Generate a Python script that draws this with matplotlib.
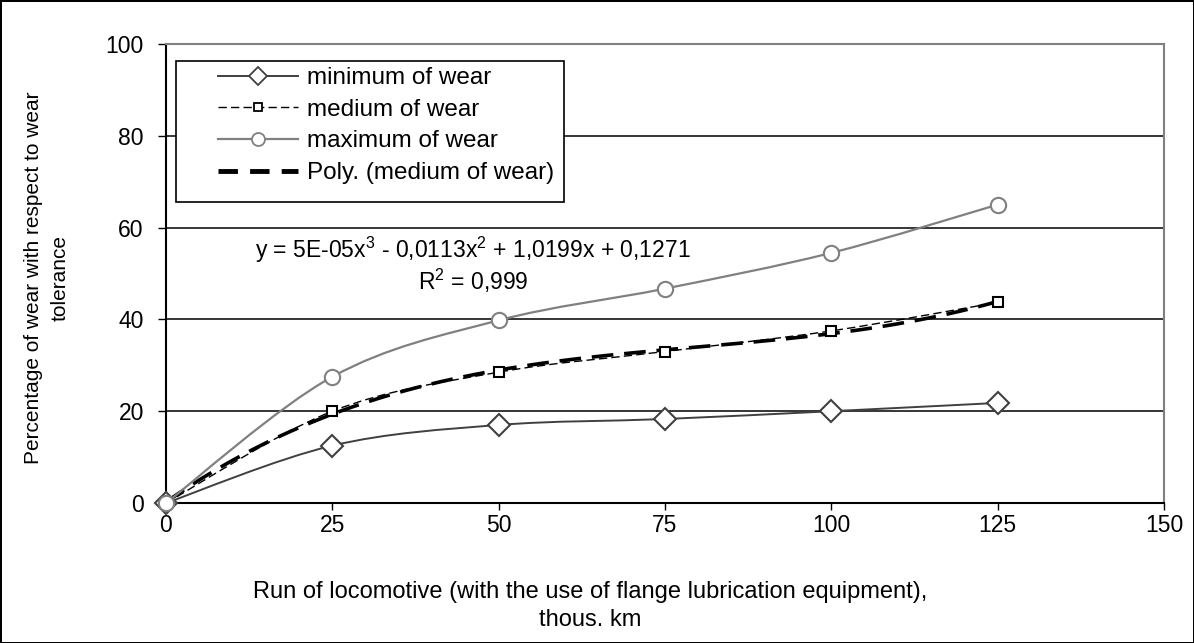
import numpy as np
import matplotlib
matplotlib.use('Agg')
import matplotlib.pyplot as plt
from matplotlib.path import Path
from matplotlib.patches import PathPatch, Rectangle
from matplotlib.lines import Line2D

plt.rcParams['font.family'] = ['Liberation Sans', 'DejaVu Sans']
plt.rcParams['mathtext.fontset'] = 'custom'
plt.rcParams['mathtext.rm'] = 'Liberation Sans'
plt.rcParams['mathtext.it'] = 'Liberation Sans'

################################################################################################

run_km = [0, 25, 50, 75, 100, 125]
wear_min = [0, 12.5, 17.0, 18.3, 20.0, 21.8]
wear_med = [0, 20.0, 28.5, 33.0, 37.5, 43.7]
wear_max = [0, 27.5, 39.8, 46.7, 54.5, 65.0]

labels = ['minimum of wear', 'medium of wear', 'maximum of wear', 'Poly. (medium of wear)']
equation = r'y = 5E-05x$^3$ - 0,0113x$^2$ + 1,0199x + 0,1271'
r_squared = r'R$^2$ = 0,999'

################################################################################################

def smooth_path(x, y):
    # Excel-like smoothed line: cubic bezier through the points
    p = np.column_stack([x, y]).astype(float)
    n = len(p)
    verts = [p[0]]
    codes = [Path.MOVETO]
    for i in range(n - 1):
        p0 = p[i - 1] if i > 0 else p[i]
        p1 = p[i]
        p2 = p[i + 1]
        p3 = p[i + 2] if i + 2 < n else p[i + 1]
        c1 = p1 + (p2 - p0) / 6
        c2 = p2 - (p3 - p1) / 6
        verts += [c1, c2, p2]
        codes += [Path.CURVE4] * 3
    return Path(verts, codes)


W, H = 1194, 643
fig = plt.figure(figsize=(W / 100, H / 100), dpi=100)
fig.patch.set_edgecolor('black')
fig.patch.set_linewidth(2)
ax = fig.add_axes([166 / W, 140 / H, 998 / W, 459 / H])

ax.set_xlim(0, 150)
ax.set_ylim(0, 100)
ax.set_xticks(np.arange(0, 151, 25))
ax.set_yticks(np.arange(0, 101, 20))
ax.tick_params(labelsize=16.5, direction='out', width=1)
ax.tick_params(axis='x', length=5, pad=3)
ax.tick_params(axis='y', length=6, pad=10)
for y in [20, 40, 60, 80]:
    ax.axhline(y, color='black', lw=1.1, zorder=1)
ax.spines['left'].set_color('black')
ax.spines['bottom'].set_color('black')
ax.spines['top'].set_color('#808080')
ax.spines['right'].set_color('#808080')
for s in ax.spines.values():
    s.set_linewidth(1.5)

# polynomial trendline of medium wear
coef = np.polyfit(run_km, wear_med, 3)
xs = np.linspace(0, 125, 200)
ax.plot(xs, np.polyval(coef, xs), color='black', lw=2.6, dashes=(6, 3), zorder=3)

styles = [
    dict(data=wear_min, color='#404040', lw=1.4, ls='-', marker='D', ms=11),
    dict(data=wear_med, color='black', lw=1.0, ls=(0, (6, 3)), marker='s', ms=7),
    dict(data=wear_max, color='#808080', lw=1.6, ls='-', marker='o', ms=11),
]
handles = []
for st, lab in zip(styles, labels):
    patch = PathPatch(smooth_path(run_km, st['data']), fill=False, edgecolor=st['color'],
                      lw=st['lw'], linestyle=st['ls'], zorder=4)
    ax.add_patch(patch)
    ax.plot(run_km, st['data'], ls='none', marker=st['marker'], ms=st['ms'],
            mfc='white', mec=st['color'], mew=1.5, zorder=5, clip_on=False)
    handles.append(Line2D([], [], color=st['color'], lw=st['lw'], ls=st['ls'],
                          marker=st['marker'], ms=st['ms'] * 0.85, mfc='white',
                          mec=st['color'], mew=1.3))
handles.append(Line2D([], [], color='black', lw=3.5, dashes=(4, 2.5)))

# legend without frame, frame drawn separately
leg = fig.legend(handles, labels, loc='upper left', bbox_to_anchor=(218 / W, 1 - 67 / H),
                 fontsize=17.5, frameon=False, borderpad=0, labelspacing=0.4,
                 handlelength=3.3, handletextpad=0.35, borderaxespad=0)
fig.canvas.draw()
bb = leg.get_window_extent()
frame = Rectangle((176 / W, 1 - 202 / H), (bb.x1 + 10 - 176) / W, (202 - 61) / H,
                  transform=fig.transFigure, facecolor='white', edgecolor='black',
                  lw=1.2, zorder=leg.get_zorder() - 0.1)
fig.add_artist(frame)

fig.text(473 / W, 1 - 250 / H, equation, fontsize=16.5, ha='center', va='center')
fig.text(473 / W, 1 - 281 / H, r_squared, fontsize=16.5, ha='center', va='center')

fig.text(590 / W, 1 - 606 / H, 'Run of locomotive (with the use of flange lubrication equipment),\nthous. km',
         fontsize=17, ha='center', va='center', linespacing=1.4)
fig.text(47 / W, 1 - 278 / H, 'Percentage of wear with respect to wear\ntolerance',
         fontsize=15, ha='center', va='center', rotation=90, linespacing=1.5)

fig.savefig('out.png', dpi=100, edgecolor=fig.get_edgecolor())
